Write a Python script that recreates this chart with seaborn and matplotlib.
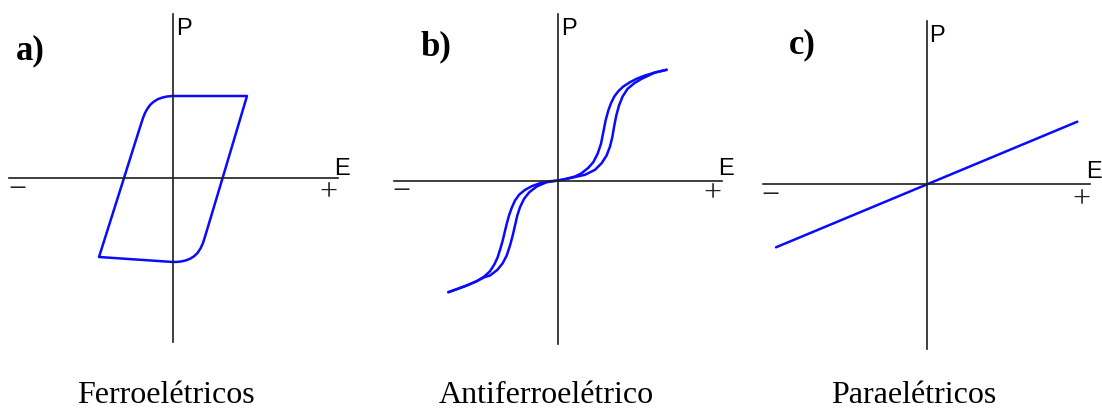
import matplotlib
matplotlib.use("Agg")
import matplotlib.pyplot as plt
import pandas as pd
import seaborn as sns

# ---- data (E, P in arbitrary units) ----
# a) ferroelectric hysteresis loop, traced once around
ferro_E = [0.0, 0.74, 0.496, 0.40, 0.352, 0.319, 0.30, 0.275, 0.245, 0.21, 0.17,
           0.125, 0.08, 0.04, 0.0,
           -0.74, -0.49, -0.383, -0.33, -0.30, -0.28, -0.255, -0.225, -0.19, -0.15,
           -0.105, -0.06, -0.02, 0.0]
ferro_P = [0.82, 0.82, 0.0, -0.32, -0.48, -0.59, -0.65, -0.705, -0.75, -0.783,
           -0.808, -0.825, -0.835, -0.839, -0.84,
           -0.79, 0.0, 0.34, 0.507, 0.60, 0.65, 0.695, 0.735, 0.765, 0.789,
           0.805, 0.815, 0.819, 0.82]

# b) antiferroelectric double loop: field decreasing and field increasing branches
anti_down_E = [1.083, 0.967, 0.867, 0.783, 0.717, 0.65, 0.60, 0.56, 0.527, 0.50, 0.473,
               0.45, 0.427, 0.393, 0.35, 0.30, 0.233, 0.167, 0.083, 0.0,
               -0.083, -0.183, -0.266, -0.333, -0.39, -0.433, -0.466, -0.493, -0.516,
               -0.536, -0.556, -0.58, -0.606, -0.64, -0.683, -0.74, -0.816, -0.916,
               -1.016, -1.10]
anti_down_P = [1.107, 1.08, 1.05, 1.017, 0.983, 0.94, 0.893, 0.84, 0.773, 0.70, 0.60,
               0.483, 0.367, 0.267, 0.183, 0.127, 0.073, 0.04, 0.017, 0.0,
               -0.007, -0.027, -0.057, -0.094, -0.14, -0.20, -0.274, -0.35, -0.434,
               -0.517, -0.60, -0.684, -0.767, -0.84, -0.907, -0.96, -1.007, -1.05,
               -1.087, -1.117]
anti_up_E = [-1.10, -1.016, -0.916, -0.816, -0.74, -0.683, -0.61, -0.556, -0.516,
             -0.483, -0.456, -0.433, -0.41, -0.383, -0.343, -0.29, -0.216, -0.116, 0.0,
             0.133, 0.267, 0.367, 0.433, 0.483, 0.517, 0.54, 0.56, 0.58, 0.607, 0.643,
             0.693, 0.76, 0.833, 0.967, 1.083]
anti_up_P = [-1.117, -1.087, -1.05, -1.007, -0.967, -0.95, -0.894, -0.827, -0.75,
             -0.65, -0.55, -0.45, -0.35, -0.267, -0.184, -0.117, -0.06, -0.017, 0.0,
             0.027, 0.057, 0.107, 0.173, 0.25, 0.34, 0.433, 0.55, 0.65, 0.75, 0.84,
             0.917, 0.973, 1.017, 1.08, 1.107]

# c) paraelectric linear response
para_E = [-1.513, 1.50]
para_P = [-0.633, 0.623]

panel_tags = ["a)", "b)", "c)"]
panel_names = ["Ferroelétricos", "Antiferroelétrico", "Paraelétricos"]

# ---- figure ----
sns.set_style("white")
plt.rcParams["font.family"] = ["Liberation Sans", "DejaVu Sans"]

W, H = 1102, 410
fig = plt.figure(figsize=(W / 100, H / 100), dpi=100)


def fx(x):
    return x / W


def fy(y):
    return 1 - y / H


BLUE = "#0a0aff"
AXC = "#1e1e1e"

# axes boxes in pixels: (left, right, top, bottom) and origin (x0, y0)
boxes = [
    ((9, 338, 15, 343), (173.0, 179.0)),
    ((394, 722, 15, 345), (558.3, 181.5)),
    ((762.7, 1090, 22, 350), (927.3, 185.0)),
]

axes = []
for (l, r, t, b), (x0, y0) in boxes:
    ax = fig.add_axes([fx(l), fy(b), (r - l) / W, (b - t) / H])
    ax.set_xlim((l - x0) / 100, (r - x0) / 100)
    ax.set_ylim((y0 - b) / 100, (y0 - t) / 100)
    for side in ["top", "right"]:
        ax.spines[side].set_visible(False)
    for side in ["left", "bottom"]:
        ax.spines[side].set_position(("data", 0))
        ax.spines[side].set_color(AXC)
        ax.spines[side].set_linewidth(1.2)
    ax.set_xticks([])
    ax.set_yticks([])
    ax.patch.set_alpha(0)
    axes.append(ax)

line_kw = dict(sort=False, estimator=None, color=BLUE, linewidth=1.8)

df_a = pd.DataFrame({"E": ferro_E, "P": ferro_P})
sns.lineplot(data=df_a, x="E", y="P", ax=axes[0], **line_kw)

df_b1 = pd.DataFrame({"E": anti_down_E, "P": anti_down_P})
df_b2 = pd.DataFrame({"E": anti_up_E, "P": anti_up_P})
sns.lineplot(data=df_b1, x="E", y="P", ax=axes[1], **line_kw)
sns.lineplot(data=df_b2, x="E", y="P", ax=axes[1], **line_kw)

df_c = pd.DataFrame({"E": para_E, "P": para_P})
sns.lineplot(data=df_c, x="E", y="P", ax=axes[2], **line_kw)

for ax in axes:
    ax.set_xlabel("")
    ax.set_ylabel("")
    for ln in ax.get_lines():
        ln.set_solid_joinstyle("round")
        ln.set_solid_capstyle("round")

# axis letters, signs, tags and captions (pixel positions)
P_pos = [(176.5, 35), (561, 35), (929, 41.7)]
E_pos = [(334, 175), (718.5, 175), (1086.5, 178.3)]
plus_pos = [(328.3, 192.5), (712.3, 194), (1081.7, 200)]
minus_pos = [(17, 191), (401.7, 192.3), (770.5, 196.7)]
tag_pos = [(15.7, 59.5), (420.7, 55), (789, 53)]
name_pos = [(165.5, 403), (546, 403), (914, 403)]

for i in range(3):
    fig.text(fx(P_pos[i][0]), fy(P_pos[i][1]), "P", fontsize=17,
             family="Liberation Sans", ha="left", va="baseline", color="black")
    fig.text(fx(E_pos[i][0]), fy(E_pos[i][1]), "E", fontsize=17,
             family="Liberation Sans", ha="left", va="baseline", color="black")
    fig.text(fx(plus_pos[i][0]), fy(plus_pos[i][1]), "+", fontsize=23,
             family="Liberation Serif", ha="center", va="center", color="#222222")
    fig.text(fx(minus_pos[i][0]), fy(minus_pos[i][1]), "\u2212", fontsize=23,
             family="Liberation Serif", ha="center", va="center", color="#222222")
    fig.text(fx(tag_pos[i][0]), fy(tag_pos[i][1]), panel_tags[i], fontsize=25,
             family="Liberation Serif", fontweight="bold", ha="left", va="baseline",
             color="black")
    fig.text(fx(name_pos[i][0]), fy(name_pos[i][1]), panel_names[i], fontsize=23,
             family="Liberation Serif", ha="center", va="baseline", color="black")

fig.savefig("out.png", dpi=100, facecolor="white")
